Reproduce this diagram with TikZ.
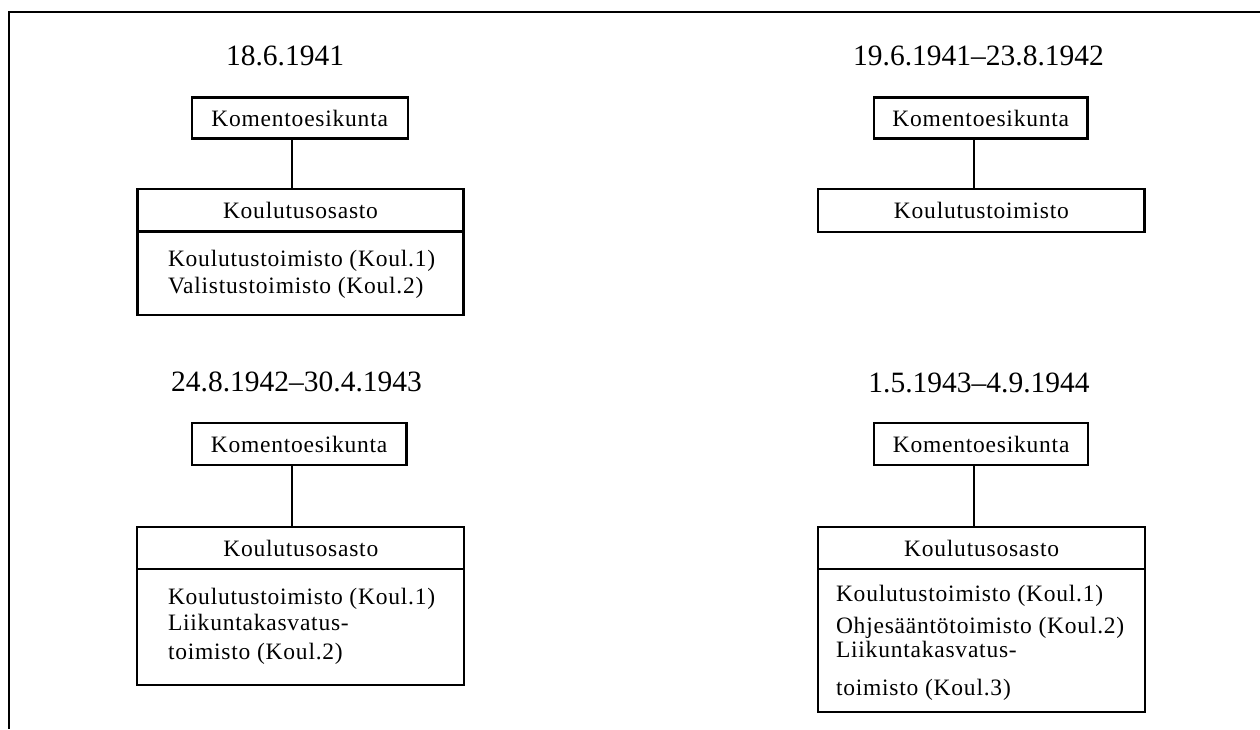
\documentclass[tikz,border=0pt]{standalone}
\usepackage{fontspec}
\setmainfont{Liberation Serif}
\newfontfamily\boxfont[LetterSpace=3.3]{Liberation Serif}
\begin{document}
\begin{tikzpicture}[x=1pt,y=-1pt,
  every node/.style={inner sep=0pt, outer sep=0pt},
  datelabel/.style={anchor=base, font=\fontsize{29.5}{32}\selectfont},
  orgbox/.style={draw, line width=2.3pt, font=\boxfont\fontsize{23.5}{26}\selectfont},
  bodytext/.style={anchor=base west, font=\boxfont\fontsize{23.5}{26}\selectfont},
  link/.style={line width=2.3pt}]
\useasboundingbox (0,0) rectangle (1260,729);
% frame
\coordinate (ftr) at (1260,12);
\coordinate (ftl) at (9,12);
\coordinate (fbl) at (9,729);
\draw[line width=2.3pt] (ftr) -- (ftl) -- (fbl);

% panel 1
\node[datelabel] (d1) at (285,65.5) {18.6.1941};
\node[orgbox, minimum width=216pt, minimum height=41pt] (k1) at (299.7,118) {Komentoesikunta};
\node[orgbox, minimum width=326pt, minimum height=42.5pt] (o1h) at (300.5,210.25) {Koulutusosasto};
\node[orgbox, minimum width=326pt, minimum height=83.5pt] (o1b) at (300.5,273.25) {};
\node[bodytext] (o1t1) at (168,266.7) {Koulutustoimisto (Koul.1)};
\node[bodytext] (o1t2) at (168,293.3) {Valistustoimisto (Koul.2)};
\draw[link] ([xshift=-7.5pt]k1.south) -- ([xshift=-7.5pt]k1.south |- o1h.north);

% panel 2
\node[datelabel] (d2) at (978.5,65.5) {19.6.1941–23.8.1942};
\node[orgbox, minimum width=213.5pt, minimum height=41pt] (k2) at (980.75,118) {Komentoesikunta};
\node[orgbox, minimum width=326.2pt, minimum height=42.7pt] (t2) at (981.4,210.35) {Koulutustoimisto};
\draw[link] ([xshift=-6.75pt]k2.south) -- ([xshift=-6.75pt]k2.south |- t2.north);

% panel 3
\node[datelabel] (d3) at (296.5,391.7) {24.8.1942–30.4.1943};
\node[orgbox, minimum width=214.8pt, minimum height=41.7pt] (k3) at (299.1,444.15) {Komentoesikunta};
\node[orgbox, minimum width=327pt, minimum height=42pt] (o3h) at (300.8,548.3) {Koulutusosasto};
\node[orgbox, minimum width=327pt, minimum height=115.7pt] (o3b) at (300.8,627.15) {};
\node[bodytext] (o3t1) at (168,604.5) {Koulutustoimisto (Koul.1)};
\node[bodytext] (o3t2) at (168,630) {Liikuntakasvatus-};
\node[bodytext] (o3t3) at (168,659.3) {toimisto (Koul.2)};
\draw[link] ([xshift=-6.8pt]k3.south) -- ([xshift=-6.8pt]k3.south |- o3h.north);

% panel 4
\node[datelabel] (d4) at (979,392) {1.5.1943–4.9.1944};
\node[orgbox, minimum width=214.3pt, minimum height=41.7pt] (k4) at (981.15,444.15) {Komentoesikunta};
\node[orgbox, minimum width=326.7pt, minimum height=42pt] (o4h) at (981.65,548.3) {Koulutusosasto};
\node[orgbox, minimum width=326.7pt, minimum height=142.4pt] (o4b) at (981.65,640.5) {};
\node[bodytext] (o4t1) at (836,601.7) {Koulutustoimisto (Koul.1)};
\node[bodytext] (o4t2) at (836,633.3) {Ohjesääntötoimisto (Koul.2)};
\node[bodytext] (o4t3) at (836,657.3) {Liikuntakasvatus-};
\node[bodytext] (o4t4) at (836,695) {toimisto (Koul.3)};
\draw[link] ([xshift=-7.15pt]k4.south) -- ([xshift=-7.15pt]k4.south |- o4h.north);
\end{tikzpicture}
\end{document}
